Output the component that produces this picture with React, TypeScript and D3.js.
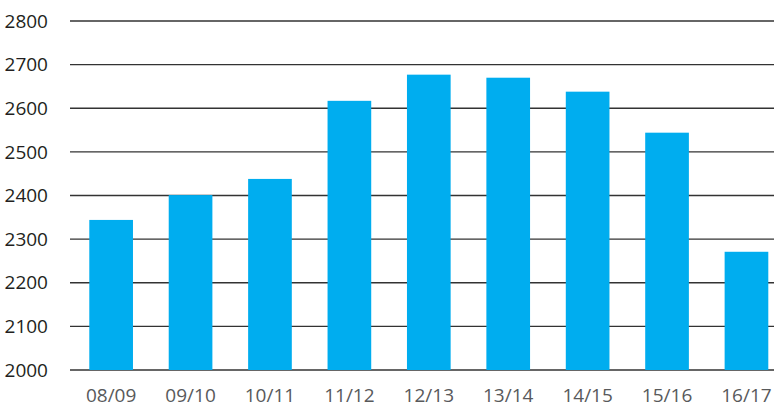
import React from "react";
import * as d3 from "d3";

const categories = ["08/09", "09/10", "10/11", "11/12", "12/13", "13/14", "14/15", "15/16", "16/17"];
const values = [2344, 2401, 2438, 2617, 2677, 2670, 2638, 2544, 2271];
const yTicks = [2000, 2100, 2200, 2300, 2400, 2500, 2600, 2700, 2800];

const W = 774;
const H = 405;

export default function App() {
  const x = d3
    .scaleBand<string>()
    .domain(categories)
    .range([70, 787.6])
    .paddingInner(0.45)
    .paddingOuter(0.243);
  const y = d3.scaleLinear().domain([2000, 2800]).range([370, 21]);
  const font = "'Open Sans', sans-serif";
  return (
    <svg width={W} height={H} style={{ position: "absolute", left: 0, top: 0, background: "#fff" }}>
      {yTicks.map((t) => (
        <g key={t}>
          <line
            x1={70}
            x2={W}
            y1={y(t)}
            y2={y(t)}
            stroke={t === 2000 ? "#666" : "#333"}
            strokeWidth={t === 2000 ? 2 : 1.3}
          />
          <text x={48} y={y(t)} dy="0.35em" textAnchor="end" fontFamily={font} fontSize={19} fill="#231f20">
            {t}
          </text>
        </g>
      ))}
      {categories.map((c, i) => (
        <rect key={c} x={x(c)} y={y(values[i])} width={x.bandwidth()} height={y(2000) - y(values[i])} fill="#00adef" />
      ))}
      {categories.map((c) => (
        <text key={c} x={(x(c) as number) + x.bandwidth() / 2} y={402} textAnchor="middle" fontFamily={font} fontSize={19} fill="#58595b">
          {c}
        </text>
      ))}
    </svg>
  );
}
